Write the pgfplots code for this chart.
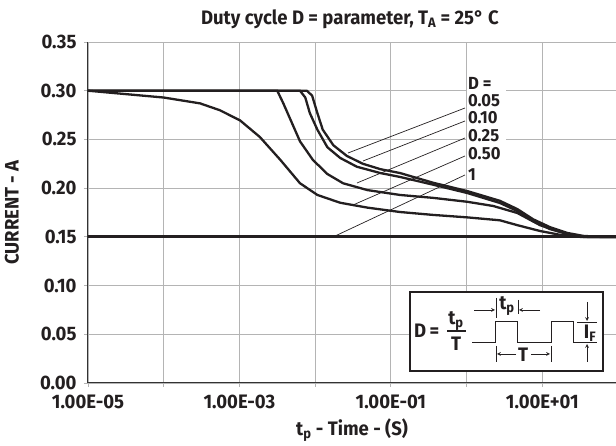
\documentclass[border=0pt]{standalone}
\usepackage{fontspec}
\setmainfont{Fira Sans}[FakeStretch=0.95]
\usepackage{pgfplots}
\pgfplotsset{compat=1.18}
\definecolor{ink}{HTML}{231F20}
\definecolor{gridc}{HTML}{B4B4B4}
\newcommand{\bfl}{\bfseries\fontsize{19.5}{21}\selectfont}
\newcommand{\bft}{\bfseries\fontsize{19.5}{21}\selectfont}
\newcommand{\bfs}{\bfseries\fontsize{17.5}{19}\selectfont}
\begin{document}
\begin{tikzpicture}
\begin{axis}[name=ax,
  scale only axis, width=528pt, height=341pt,
  xmode=log, xmin=1e-5, xmax=94, ymin=0, ymax=0.35,
  axis x line=bottom, axis y line=left,
  axis line style={-, line width=1pt, color=black!80},
  xtick={1e-5,1e-4,1e-3,1e-2,1e-1,1,10},
  xticklabels={1.00E-05,,1.00E-03,,1.00E-01,,1.00E+01},
  xminorticks=false,
  ytick={0,0.05,0.10,0.15,0.20,0.25,0.30,0.35},
  yticklabels={0.00,0.05,0.10,0.15,0.20,0.25,0.30,0.35},
  grid=major, major grid style={gridc, line width=0.8pt},
  tick align=outside, major tick length=4pt,
  tick style={gridc, line width=0.8pt},
  ticklabel style={font=\bfl, text=ink},
  xticklabel style={yshift=-4pt},
  yticklabel style={xshift=-4pt},
  label style={font=\bfl, text=ink},
  title style={font=\bft, text=ink, at={(axis description cs:0.496,1.05)}, anchor=center},
  title={Duty cycle D = parameter, T\textsubscript{A} = 25° C},
  xlabel={t\textsubscript{p} - Time - (S)},
  xlabel style={at={(axis description cs:0.5,-0.138)}, anchor=center},
  ylabel={CURRENT - A},
  ylabel style={at={(axis description cs:-0.144,0.5)}, anchor=center},
  clip=true,
]
% D = 0.05
\addplot[ink, line width=2.3pt] coordinates {
(1e-5,0.300) (7.76e-3,0.300) (9.12e-3,0.295) (1.07e-2,0.277) (1.26e-2,0.260)
(1.74e-2,0.244) (2.63e-2,0.233) (4.27e-2,0.225) (7.24e-2,0.2195) (0.132,0.2155)
(0.363,0.2055) (1.02,0.197) (2.75,0.187) (4.68,0.1785) (7.59,0.168)
(12.6,0.160) (21.4,0.154) (34.7,0.151) (57.5,0.150) (100,0.150)};
% D = 0.10
\addplot[ink, line width=2.3pt] coordinates {
(1e-5,0.300) (6.31e-3,0.300) (7.41e-3,0.293) (8.51e-3,0.277) (1.07e-2,0.260)
(1.45e-2,0.242) (2.14e-2,0.231) (3.55e-2,0.222) (7.24e-2,0.2155) (0.132,0.2115)
(0.363,0.2035) (1.02,0.195) (2.75,0.1848) (4.68,0.1765) (7.59,0.166)
(12.6,0.158) (21.4,0.153) (34.7,0.150) (100,0.150)};
% D = 0.25
\addplot[ink, line width=2.3pt] coordinates {
(1e-5,0.300) (3.16e-3,0.300) (3.80e-3,0.287) (4.68e-3,0.271) (6.31e-3,0.248)
(9.33e-3,0.229) (1.45e-2,0.2145) (2.34e-2,0.205) (4.90e-2,0.198) (0.132,0.193)
(0.363,0.190) (1.02,0.186) (2.24,0.1817) (4.68,0.1745) (9.33,0.162)
(17.4,0.155) (31.6,0.150) (100,0.150)};
% D = 0.50
\addplot[ink, line width=2.3pt] coordinates {
(1e-5,0.300) (1e-4,0.293) (3.02e-4,0.287) (5.50e-4,0.280) (1.02e-3,0.2695)
(1.86e-3,0.2525) (3.47e-3,0.229) (6.31e-3,0.205) (1.07e-2,0.193) (2.14e-2,0.185)
(4.90e-2,0.180) (0.132,0.1755) (0.363,0.1725) (1.02,0.170) (2.75,0.167)
(4.68,0.162) (9.33,0.156) (17.4,0.152) (38.9,0.150) (100,0.150)};
% D = 1
\addplot[ink, line width=2.9pt] coordinates {(1e-5,0.150) (100,0.150)};
\end{axis}
\begin{scope}[shift={(ax.south west)}]
\begin{scope}[xshift=-88pt, yshift=383pt, x=1pt, y=-1pt, ink]
  % leaders
  \draw[line width=0.7pt] (465,108) -- (348,153);
  \draw[line width=0.7pt] (465,121) -- (363,161);
  \draw[line width=0.7pt] (465,138) -- (357,183);
  \draw[line width=0.7pt] (465,156) -- (353,205);
  \draw[line width=0.7pt] (465,175) -- (333,237);
  \fill[white] (467,74) rectangle (506,146);
  \fill[white] (467,146) rectangle (503,164);
  \begin{scope}[every node/.style={anchor=west, inner sep=0pt, font=\bfs}]
  \node at (468,83) {D =};
  \node at (468,101) {0.05};
  \node at (468,118) {0.10};
  \node at (468,136) {0.25};
  \node at (468,154) {0.50};
  \node at (468,175) {1};
  \end{scope}
  % inset
  \draw[line width=1.2pt, fill=white] (410,292) rectangle (603,371);
  \node[anchor=west, inner sep=0pt, font=\bfl] at (414,331) {D\,=};
  \node[inner sep=0pt, font=\bfl] at (456,321) {t\textsubscript{p}};
  \draw[line width=1.1pt] (447,331) -- (466,331);
  \node[inner sep=0pt, font=\bfl] at (456,344) {T};
  \draw[line width=1pt] (472,343) -- (495,343) -- (495,322) -- (517,322) -- (517,343)
     -- (551,343) -- (551,322) -- (573,322) -- (573,343) -- (597,343);
  \draw[line width=0.7pt] (496,298) -- (496,318);
  \draw[line width=0.7pt] (518,300) -- (518,314);
  \draw[line width=0.7pt,-stealth] (474,310) -- (495,310);
  \draw[line width=0.7pt,-stealth] (540,310) -- (519,310);
  \node[inner sep=0pt, font=\bfl] at (507,306) {t\textsubscript{p}};
  \draw[line width=0.7pt] (496,346) -- (496,362);
  \draw[line width=0.7pt] (551,346) -- (551,362);
  \draw[line width=0.7pt,-stealth] (516,354) -- (497,354);
  \draw[line width=0.7pt,-stealth] (531,354) -- (550,354);
  \node[inner sep=0pt, font=\bfl] at (523,355) {T};
  \draw[line width=0.7pt] (577,322) -- (597,322);
  \draw[line width=0.7pt,-stealth] (587,302) -- (587,321);
  \draw[line width=0.7pt,-stealth] (587,362) -- (587,344);
  \node[inner sep=0pt, font=\bfl] at (590,333) {I\textsubscript{F}};
\end{scope}
\end{scope}
\pgfresetboundingbox
\path (ax.south west) ++(-88pt,-63pt) rectangle ++(616pt,446pt);
\end{tikzpicture}
\end{document}
